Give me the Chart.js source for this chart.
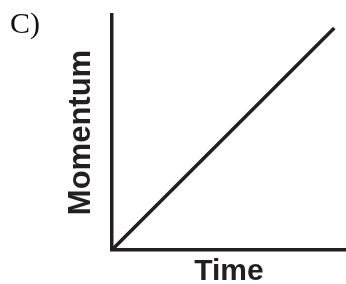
<!DOCTYPE html>
<html>
<head>
<meta charset="utf-8">
<script src="https://cdn.jsdelivr.net/npm/chart.js@4/dist/chart.umd.min.js"></script>
<style>
  html, body { margin: 0; padding: 0; background: #fff; }
  #wrap { position: relative; width: 346px; height: 284px; }
  #label {
    position: absolute; left: 10px; top: 8px;
    font-family: "Liberation Serif", "Times New Roman", serif;
    font-size: 30px; line-height: 30px; color: #111;
  }
</style>
</head>
<body>
<div id="wrap">
  <canvas id="chart" width="346" height="284"></canvas>
  <div id="label">C)</div>
</div>
<script>
  // straight line through the origin
  const times = [0, 9.5];
  const momentum = [0, 9.45];
  const axisMax = 10;
  const ink = "#231f20";

  const points = times.map((t, i) => ({ x: t, y: momentum[i] }));

  new Chart(document.getElementById("chart"), {
    type: "line",
    data: {
      datasets: [
        {
          data: points,
          borderColor: ink,
          borderWidth: 3.5,
          pointRadius: 0,
          fill: false,
          clip: false,
        },
      ],
    },
    options: {
      responsive: false,
      animation: false,
      layout: { padding: { left: 0, top: 15, right: 0, bottom: 0 } },
      plugins: { legend: { display: false }, tooltip: { enabled: false } },
      scales: {
        x: {
          type: "linear",
          min: 0,
          max: axisMax,
          grid: { display: false, drawTicks: false },
          ticks: { display: false },
          border: { display: true, color: ink, width: 3.5 },
          title: {
            display: true,
            text: "Time",
            color: ink,
            font: { family: "Liberation Sans, Arial, sans-serif", size: 30, weight: "bold", lineHeight: 0.8 },
            padding: { top: 9.5, bottom: 0.5 },
          },
        },
        y: {
          type: "linear",
          min: 0,
          max: axisMax,
          grid: { display: false, drawTicks: false },
          ticks: { display: false },
          border: { display: true, color: ink, width: 3.5 },
          title: {
            display: true,
            text: "Momentum",
            color: ink,
            font: { family: "Liberation Sans, Arial, sans-serif", size: 31, weight: "bold", lineHeight: 0.8 },
            padding: { top: 69, bottom: 18 },
          },
        },
      },
    },
  });
</script>
</body>
</html>
